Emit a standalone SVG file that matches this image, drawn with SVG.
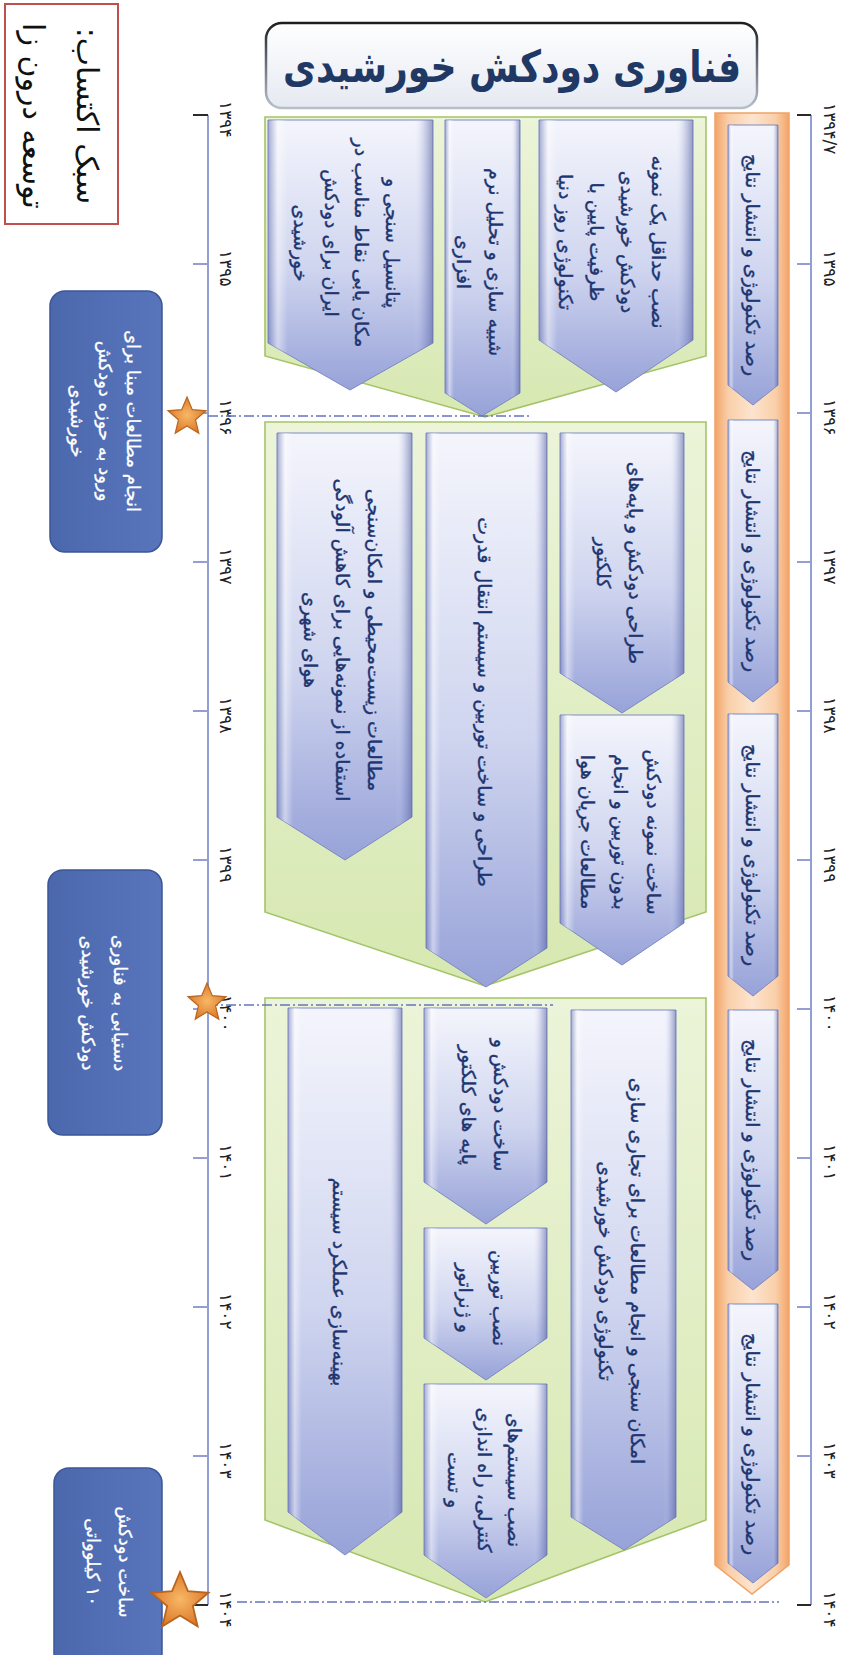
<svg xmlns="http://www.w3.org/2000/svg" width="845" height="1655" viewBox="0 0 845 1655">
<defs>
<linearGradient id="gBlue" x1="0" y1="0" x2="0" y2="1">
<stop offset="0" stop-color="#f4f5fc"/><stop offset="0.55" stop-color="#cfd5ef"/><stop offset="1" stop-color="#97a2d8"/>
</linearGradient>
<linearGradient id="gBevel" x1="0" y1="0" x2="1" y2="0">
<stop offset="0" stop-color="#5f6bae" stop-opacity="0.55"/><stop offset="0.06" stop-color="#ffffff" stop-opacity="0.45"/><stop offset="0.12" stop-color="#ffffff" stop-opacity="0"/><stop offset="0.88" stop-color="#ffffff" stop-opacity="0"/><stop offset="0.94" stop-color="#6c78b8" stop-opacity="0.2"/><stop offset="1" stop-color="#55619f" stop-opacity="0.6"/>
</linearGradient>
<linearGradient id="gGreen" x1="0" y1="0" x2="0" y2="1">
<stop offset="0" stop-color="#ecf4d9"/><stop offset="1" stop-color="#d7e8b1"/>
</linearGradient>
<linearGradient id="gOrange" x1="0" y1="0" x2="1" y2="0">
<stop offset="0" stop-color="#f3a468"/><stop offset="0.18" stop-color="#f9cfa9"/><stop offset="0.5" stop-color="#fde4ce"/><stop offset="0.82" stop-color="#f9cfa9"/><stop offset="1" stop-color="#f3a468"/>
</linearGradient>
<linearGradient id="gTitle" x1="0" y1="0" x2="0" y2="1">
<stop offset="0" stop-color="#ffffff"/><stop offset="1" stop-color="#e5e9f1"/>
</linearGradient>
<linearGradient id="gTitleStroke" x1="0" y1="0" x2="0" y2="1">
<stop offset="0" stop-color="#1e1e22"/><stop offset="0.5" stop-color="#6d7480"/><stop offset="1" stop-color="#b9bfca"/>
</linearGradient>
<linearGradient id="gMile" x1="0" y1="0" x2="1" y2="0">
<stop offset="0" stop-color="#4c68ad"/><stop offset="1" stop-color="#5874bb"/>
</linearGradient>
<radialGradient id="gStar" cx="0.5" cy="0.5" r="0.5">
<stop offset="0" stop-color="#f7b866"/><stop offset="1" stop-color="#dc7b2c"/>
</radialGradient>
<polygon id="star" points="0,-20 5.29,-7.28 19.02,-6.18 8.56,2.78 11.76,16.18 0,9 -11.76,16.18 -8.56,2.78 -19.02,-6.18 -5.29,-7.28"/>
<style>
.ar{fill:url(#gBlue);stroke:#7d89c4;stroke-width:1}
.bv{fill:url(#gBevel);stroke:none}
.gr{fill:url(#gGreen);stroke:#a5c468;stroke-width:1.6}
.tx{font-family:"DejaVu Sans",sans-serif;font-size:19px;fill:#1d3570;stroke:#1d3570;stroke-width:0.35;text-anchor:middle;dominant-baseline:central;direction:rtl;unicode-bidi:embed}
.mt{font-family:"DejaVu Sans",sans-serif;font-size:18px;fill:#ffffff;stroke:#ffffff;stroke-width:0.3;text-anchor:middle;dominant-baseline:central;direction:rtl;unicode-bidi:embed}
.yl{font-family:"DejaVu Sans",sans-serif;font-size:17px;fill:#222222;text-anchor:start;dominant-baseline:central}
.ax{stroke:#939fd3;stroke-width:2;fill:none}
.cap{stroke:#2a2a2a;stroke-width:2;fill:none}
.dd{stroke:#6476bd;stroke-width:1.6;fill:none;stroke-dasharray:10 3 2 3}
.ms{fill:url(#gMile);stroke:#3b5697;stroke-width:1.5}
.st{fill:url(#gStar);stroke:#b9641f;stroke-width:1.2}
</style>
</defs>
<rect width="845" height="1655" fill="#ffffff"/>

<g id="style-box">
<rect x="5" y="4" width="113" height="220" fill="#ffffff" stroke="#c0504d" stroke-width="2"/>
<text transform="translate(61,116) rotate(90)" style="font-family:'DejaVu Sans',sans-serif;font-size:30px;fill:#111;text-anchor:middle;dominant-baseline:central;direction:rtl;unicode-bidi:embed"><tspan x="0" y="-27">سبک اکتساب:</tspan><tspan x="0" y="27">توسعه درون زا</tspan></text>
</g>

<g id="title">
<rect x="266" y="23" width="491" height="85" rx="16" fill="url(#gTitle)" stroke="url(#gTitleStroke)" stroke-width="2.5"/>
<text transform="translate(512,82) scale(0.82,1)" style="font-family:'DejaVu Sans',sans-serif;font-size:44px;font-weight:bold;fill:#1f3864;text-anchor:middle;direction:rtl;unicode-bidi:embed">فناوری دودکش خورشیدی</text>
</g>

<g id="axes">
<line class="ax" x1="208" y1="115" x2="208" y2="1605"/>
<line class="ax" x1="811" y1="115" x2="811" y2="1605"/>
<path class="cap" d="M193,115H208M193,1605H208M797,115H811M797,1605H811"/>
<path class="ax" d="M193,264H208M193,413H208M193,562H208M193,711H208M193,860H208M193,1009H208M193,1158H208M193,1307H208M193,1456H208M797,264H811M797,413H811M797,562H811M797,711H811M797,860H811M797,1009H811M797,1158H811M797,1307H811M797,1456H811"/>
<text class="yl" transform="translate(226,101) rotate(90)">۱۳۹۴</text>
<text class="yl" transform="translate(226,250) rotate(90)">۱۳۹۵</text>
<text class="yl" transform="translate(226,399) rotate(90)">۱۳۹۶</text>
<text class="yl" transform="translate(226,548) rotate(90)">۱۳۹۷</text>
<text class="yl" transform="translate(226,697) rotate(90)">۱۳۹۸</text>
<text class="yl" transform="translate(226,846) rotate(90)">۱۳۹۹</text>
<text class="yl" transform="translate(226,995) rotate(90)">۱۴۰۰</text>
<text class="yl" transform="translate(226,1144) rotate(90)">۱۴۰۱</text>
<text class="yl" transform="translate(226,1293) rotate(90)">۱۴۰۲</text>
<text class="yl" transform="translate(226,1442) rotate(90)">۱۴۰۳</text>
<text class="yl" transform="translate(226,1591) rotate(90)">۱۴۰۴</text>
<text class="yl" transform="translate(830,103) rotate(90)">۱۳۹۴/۷</text>
<text class="yl" transform="translate(830,250) rotate(90)">۱۳۹۵</text>
<text class="yl" transform="translate(830,399) rotate(90)">۱۳۹۶</text>
<text class="yl" transform="translate(830,548) rotate(90)">۱۳۹۷</text>
<text class="yl" transform="translate(830,697) rotate(90)">۱۳۹۸</text>
<text class="yl" transform="translate(830,846) rotate(90)">۱۳۹۹</text>
<text class="yl" transform="translate(830,995) rotate(90)">۱۴۰۰</text>
<text class="yl" transform="translate(830,1144) rotate(90)">۱۴۰۱</text>
<text class="yl" transform="translate(830,1293) rotate(90)">۱۴۰۲</text>
<text class="yl" transform="translate(830,1442) rotate(90)">۱۴۰۳</text>
<text class="yl" transform="translate(830,1591) rotate(90)">۱۴۰۴</text>
</g>

<g id="phase1">
<polygon class="gr" points="265,117 706,117 706,356 485,417 265,356"/>
</g>
<g id="phase2">
<polygon class="gr" points="265,422 706,422 706,912 485,986 265,912"/>
</g>
<g id="phase3">
<polygon class="gr" points="265,998 706,998 706,1520 485,1602 265,1520"/>
</g>

<g id="monitoring">
<polygon points="715,113 789,113 789,1565 752,1594 715,1565" fill="url(#gOrange)" stroke="#f0a264" stroke-width="1.5"/>
</g>
<g id="obs1"><polygon class="ar" points="728,125 778,125 778,385 753,405 728,385"/><polygon class="bv" points="728,125 778,125 778,385 753,405 728,385"/><text class="tx" transform="translate(753,265) rotate(90)">رصد تکنولوژی و انتشار نتایج</text></g>
<g id="obs2"><polygon class="ar" points="728,420 778,420 778,682 753,702 728,682"/><polygon class="bv" points="728,420 778,420 778,682 753,702 728,682"/><text class="tx" transform="translate(753,561) rotate(90)">رصد تکنولوژی و انتشار نتایج</text></g>
<g id="obs3"><polygon class="ar" points="728,714 778,714 778,976 753,996 728,976"/><polygon class="bv" points="728,714 778,714 778,976 753,996 728,976"/><text class="tx" transform="translate(753,855) rotate(90)">رصد تکنولوژی و انتشار نتایج</text></g>
<g id="obs4"><polygon class="ar" points="728,1010 778,1010 778,1270 753,1290 728,1270"/><polygon class="bv" points="728,1010 778,1010 778,1270 753,1290 728,1270"/><text class="tx" transform="translate(753,1150) rotate(90)">رصد تکنولوژی و انتشار نتایج</text></g>
<g id="obs5"><polygon class="ar" points="728,1304 778,1304 778,1563 753,1583 728,1563"/><polygon class="bv" points="728,1304 778,1304 778,1563 753,1583 728,1563"/><text class="tx" transform="translate(753,1444) rotate(90)">رصد تکنولوژی و انتشار نتایج</text></g>

<g id="p1-install">
<polygon class="ar" points="539,120 693,120 693,340 616,392 539,340"/><polygon class="bv" points="539,120 693,120 693,340 616,392 539,340"/>
<text class="tx" transform="translate(612,242) rotate(90)"><tspan x="0" y="-46.5">نصب حداقل یک نمونه</tspan><tspan x="0" y="-15.5">دودکش خورشیدی</tspan><tspan x="0" y="15.5">ظرفیت پایین با</tspan><tspan x="0" y="46.5">تکنولوژی روز دنیا</tspan></text>
</g>
<g id="p1-simulation">
<polygon class="ar" points="445,120 520,120 520,393 482,416 445,393"/><polygon class="bv" points="445,120 520,120 520,393 482,416 445,393"/>
<text class="tx" transform="translate(480,262) rotate(90)"><tspan x="0" y="-16">شبیه سازی و تحلیل نرم</tspan><tspan x="0" y="16">افزاری</tspan></text>
</g>
<g id="p1-potential">
<polygon class="ar" points="268,120 433,120 433,343 350,390 268,343"/><polygon class="bv" points="268,120 433,120 433,343 350,390 268,343"/>
<text class="tx" transform="translate(347,243) rotate(90)"><tspan x="0" y="-46">پتانسیل سنجی و</tspan><tspan x="0" y="-15.3">مکان یابی نقاط مناسب در</tspan><tspan x="0" y="15.3">ایران برای دودکش</tspan><tspan x="0" y="46">خورشیدی</tspan></text>
</g>

<g id="p2-design">
<polygon class="ar" points="560,433 684,433 684,673 622,713 560,673"/><polygon class="bv" points="560,433 684,433 684,673 622,713 560,673"/>
<text class="tx" transform="translate(620,563) rotate(90)"><tspan x="0" y="-16">طراحی دودکش و پایه‌های</tspan><tspan x="0" y="16">کلکتور</tspan></text>
</g>
<g id="p2-prototype">
<polygon class="ar" points="560,715 684,715 684,923 622,965 560,923"/><polygon class="bv" points="560,715 684,715 684,923 622,965 560,923"/>
<text class="tx" transform="translate(621,832) rotate(90)"><tspan x="0" y="-33">ساخت نمونه دودکش</tspan><tspan x="0" y="0">بدون توربین و انجام</tspan><tspan x="0" y="33">مطالعات جریان هوا</tspan></text>
</g>
<g id="p2-turbine">
<polygon class="ar" points="426,433 547,433 547,948 486,987 426,948"/><polygon class="bv" points="426,433 547,433 547,948 486,987 426,948"/>
<text class="tx" transform="translate(485,702) rotate(90)">طراحی و ساخت توربین و سیستم انتقال قدرت</text>
</g>
<g id="p2-environment">
<polygon class="ar" points="277,433 412,433 412,817 345,860 277,817"/><polygon class="bv" points="277,433 412,433 412,817 345,860 277,817"/>
<text class="tx" transform="translate(343,640) rotate(90)"><tspan x="0" y="-32">مطالعات زیست‌محیطی و امکان‌سنجی</tspan><tspan x="0" y="0">استفاده از نمونه‌هایی برای کاهش آلودگی</tspan><tspan x="0" y="32">هوای شهری</tspan></text>
</g>

<g id="p3-feasibility">
<polygon class="ar" points="571,1010 676,1010 676,1517 624,1550 571,1517"/><polygon class="bv" points="571,1010 676,1010 676,1517 624,1550 571,1517"/>
<text class="tx" transform="translate(622,1271) rotate(90)"><tspan x="0" y="-16">امکان سنجی و انجام مطالعات برای تجاری سازی</tspan><tspan x="0" y="16">تکنولوژی دودکش خورشیدی</tspan></text>
</g>
<g id="p3-chimney">
<polygon class="ar" points="424,1008 547,1008 547,1182 486,1224 424,1182"/><polygon class="bv" points="424,1008 547,1008 547,1182 486,1224 424,1182"/>
<text class="tx" transform="translate(485,1105) rotate(90)"><tspan x="0" y="-16">ساخت دودکش و</tspan><tspan x="0" y="16">پایه های کلکتور</tspan></text>
</g>
<g id="p3-generator">
<polygon class="ar" points="424,1228 547,1228 547,1338 486,1380 424,1338"/><polygon class="bv" points="424,1228 547,1228 547,1338 486,1380 424,1338"/>
<text class="tx" transform="translate(483,1298) rotate(90)"><tspan x="0" y="-17">نصب توربین</tspan><tspan x="0" y="17">و ژنراتور</tspan></text>
</g>
<g id="p3-control">
<polygon class="ar" points="424,1384 547,1384 547,1555 486,1598 424,1555"/><polygon class="bv" points="424,1384 547,1384 547,1555 486,1598 424,1555"/>
<text class="tx" transform="translate(485,1480) rotate(90)"><tspan x="0" y="-30">نصب سیستم‌های</tspan><tspan x="0" y="0">کنترلی، راه اندازی</tspan><tspan x="0" y="30">و تست</tspan></text>
</g>
<g id="p3-optimization">
<polygon class="ar" points="288,1008 402,1008 402,1512 345,1555 288,1512"/><polygon class="bv" points="288,1008 402,1008 402,1512 345,1555 288,1512"/>
<text class="tx" transform="translate(340,1282) rotate(90)">بهینه‌سازی عملکرد سیستم</text>
</g>

<g id="connectors">
<line class="dd" x1="208" y1="416" x2="531" y2="416"/>
<line class="dd" x1="208" y1="1005" x2="553" y2="1005"/>
<line class="dd" x1="237" y1="1602" x2="779" y2="1602"/>
</g>

<g id="milestone1">
<rect class="ms" x="50" y="291" width="112" height="261" rx="15"/>
<text class="mt" transform="translate(106,421) rotate(90)"><tspan x="0" y="-28">انجام مطالعات مبنا برای</tspan><tspan x="0" y="0">ورود به حوزه دودکش</tspan><tspan x="0" y="28">خورشیدی</tspan></text>
<use href="#star" class="st" transform="translate(187,417)"/>
</g>
<g id="milestone2">
<rect class="ms" x="48" y="870" width="114" height="265" rx="15"/>
<text class="mt" transform="translate(105,1003) rotate(90)"><tspan x="0" y="-16">دستیابی به فناوری</tspan><tspan x="0" y="16">دودکش خورشیدی</tspan></text>
<use href="#star" class="st" transform="translate(207,1003)"/>
</g>
<g id="milestone3">
<rect class="ms" x="54" y="1468" width="108" height="200" rx="15"/>
<text class="mt" transform="translate(110,1562) rotate(90)"><tspan x="0" y="-16">ساخت دودکش</tspan><tspan x="0" y="16">۱۰ کیلوواتی</tspan></text>
<use href="#star" class="st" transform="translate(180,1602) scale(1.5)"/>
</g>
</svg>
